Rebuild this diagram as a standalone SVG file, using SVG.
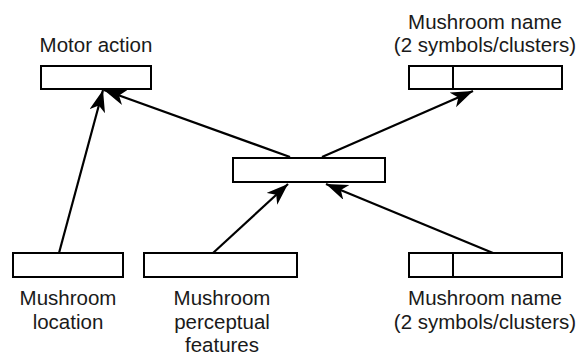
<svg xmlns="http://www.w3.org/2000/svg" width="581" height="356" viewBox="0 0 581 356">
  <style>
    .box { fill: #ffffff; stroke: #000000; stroke-width: 2; }
    .div { stroke: #000000; stroke-width: 2; }
    .lbl { font-family: "Liberation Sans", Arial, sans-serif; font-size: 20.5px; fill: #1a1a1a; text-anchor: middle; }
    .edge { stroke: #000000; stroke-width: 2.2; fill: none; marker-end: url(#head); }
  </style>
  <defs>
    <marker id="head" markerUnits="userSpaceOnUse" markerWidth="24" markerHeight="18" refX="22" refY="8" orient="auto" viewBox="0 0 24 18">
      <path d="M0,0 L22,8 L0,16 L6,8 z" fill="#000000"/>
    </marker>
  </defs>
  <rect width="581" height="356" fill="#ffffff"/>

  <g id="connectors">
    <line class="edge" x1="59" y1="253" x2="103" y2="90"/>
    <line class="edge" x1="290" y1="157" x2="104" y2="90"/>
    <line class="edge" x1="322" y1="157" x2="473" y2="91"/>
    <line class="edge" x1="213" y1="253" x2="288" y2="184"/>
    <line class="edge" x1="493" y1="253" x2="326" y2="184"/>
  </g>

  <g id="motor-action">
    <rect class="box" x="41" y="66" width="110" height="23"/>
    <text class="lbl" x="96" y="52">Motor action</text>
  </g>

  <g id="name-output">
    <rect class="box" x="409" y="66" width="153" height="23"/>
    <line class="div" x1="453" y1="66" x2="453" y2="89"/>
    <text class="lbl" x="485" y="29">Mushroom name</text>
    <text class="lbl" x="485" y="52">(2 symbols/clusters)</text>
  </g>

  <g id="hidden">
    <rect class="box" x="233" y="158" width="152" height="24"/>
  </g>

  <g id="location">
    <rect class="box" x="13" y="253" width="110" height="24"/>
    <text class="lbl" x="68" y="305">Mushroom</text>
    <text class="lbl" x="68" y="329">location</text>
  </g>

  <g id="perceptual">
    <rect class="box" x="144" y="253" width="153" height="24"/>
    <text class="lbl" x="222" y="305">Mushroom</text>
    <text class="lbl" x="222" y="329">perceptual</text>
    <text class="lbl" x="222" y="352">features</text>
  </g>

  <g id="name-input">
    <rect class="box" x="409" y="253" width="153" height="24"/>
    <line class="div" x1="453" y1="253" x2="453" y2="277"/>
    <text class="lbl" x="485" y="305">Mushroom name</text>
    <text class="lbl" x="485" y="329">(2 symbols/clusters)</text>
  </g>
</svg>
